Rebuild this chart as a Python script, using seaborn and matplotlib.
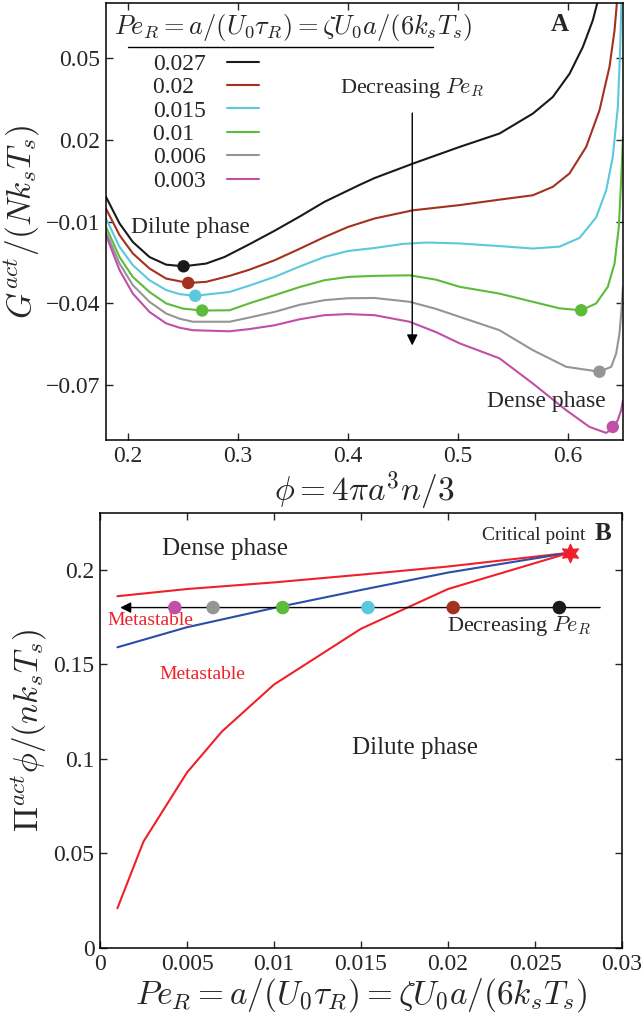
import numpy as np
import pandas as pd
import seaborn as sns
import matplotlib.pyplot as plt
from matplotlib.ticker import FixedLocator, FixedFormatter

# ---- panel A: G_act vs phi, one curve per Pe_R ----
pe_labels = ["0.027", "0.02", "0.015", "0.01", "0.006", "0.003"]
pe_colors = ["#1a1a1a", "#a2321e", "#5bc8dc", "#5dbb3c", "#959595", "#c04fa8"]

phi_027 = [0.18, 0.1923, 0.2044, 0.2195, 0.2347, 0.2505, 0.271, 0.2877, 0.31, 0.3332, 0.356,
           0.3786, 0.41, 0.4241, 0.459, 0.5014, 0.5377, 0.568, 0.5862, 0.6014, 0.6135, 0.6225, 0.6265]
g_027 = [-0.001, -0.0107, -0.0175, -0.023, -0.0258, -0.0264, -0.0254, -0.023, -0.0184, -0.0134, -0.0082,
         -0.0028, 0.0033, 0.0059, 0.0112, 0.0173, 0.0222, 0.0295, 0.0356, 0.0441, 0.0539, 0.0636, 0.0698]

phi_020 = [0.18, 0.1923, 0.2044, 0.2195, 0.2347, 0.2547, 0.271, 0.2923, 0.31, 0.3332, 0.356,
           0.3786, 0.40, 0.4241, 0.459, 0.5014, 0.5377, 0.568, 0.5862, 0.6014, 0.6165, 0.6286,
           0.6377, 0.6423, 0.6444]
g_020 = [-0.0053, -0.015, -0.0217, -0.0272, -0.0309, -0.0325, -0.0321, -0.0299, -0.0277, -0.0242, -0.02,
         -0.0157, -0.012, -0.0089, -0.0059, -0.004, -0.002, -0.0004, 0.0027, 0.0076, 0.0173, 0.0307,
         0.0466, 0.06, 0.0698]

phi_015 = [0.18, 0.1923, 0.2044, 0.2195, 0.2347, 0.247, 0.2611, 0.2923, 0.31, 0.3332, 0.356,
           0.3786, 0.40, 0.4241, 0.45, 0.471, 0.50, 0.5377, 0.568, 0.5923, 0.6105, 0.6256,
           0.6347, 0.6407, 0.6453, 0.6474, 0.6486]
g_015 = [-0.0089, -0.0193, -0.026, -0.0315, -0.0351, -0.0366, -0.0372, -0.0358, -0.0335, -0.0303, -0.0265,
         -0.023, -0.0208, -0.0197, -0.0182, -0.0177, -0.018, -0.019, -0.0199, -0.0192, -0.016, -0.0085,
         0.0014, 0.0136, 0.0319, 0.0527, 0.071]

phi_010 = [0.18, 0.1923, 0.2044, 0.2195, 0.2347, 0.25, 0.2674, 0.2923, 0.31, 0.3332, 0.356,
           0.3786, 0.40, 0.4241, 0.456, 0.48, 0.5014, 0.5377, 0.568, 0.5923, 0.612, 0.6256,
           0.6362, 0.6423, 0.6462, 0.6483, 0.65]
g_010 = [-0.012, -0.023, -0.0303, -0.0358, -0.04, -0.0419, -0.0426, -0.0425, -0.04, -0.037, -0.034,
         -0.0315, -0.0303, -0.0299, -0.0297, -0.0313, -0.0339, -0.0364, -0.0394, -0.0418, -0.0425, -0.04,
         -0.0339, -0.0254, -0.012, 0.0051, 0.021]

phi_006 = [0.18, 0.1923, 0.2044, 0.2195, 0.2347, 0.247, 0.259, 0.2923, 0.31, 0.3332, 0.356,
           0.3786, 0.40, 0.4241, 0.456, 0.48, 0.5014, 0.5377, 0.568, 0.5984, 0.6286, 0.6393,
           0.6438, 0.6468, 0.6486, 0.65]
g_006 = [-0.0138, -0.0254, -0.0333, -0.0394, -0.0437, -0.0456, -0.0467, -0.0467, -0.0452, -0.0431, -0.0405,
         -0.0388, -0.0381, -0.038, -0.0394, -0.042, -0.0449, -0.0498, -0.0571, -0.0632, -0.065, -0.0632,
         -0.0583, -0.051, -0.0425, -0.0339]

phi_003 = [0.18, 0.1923, 0.2044, 0.2195, 0.2347, 0.247, 0.259, 0.2923, 0.31, 0.3332, 0.356,
           0.3786, 0.40, 0.4241, 0.456, 0.48, 0.5014, 0.5377, 0.568, 0.5984, 0.6195, 0.6347,
           0.6407, 0.6453, 0.6483, 0.65]
g_003 = [-0.015, -0.0278, -0.0364, -0.0431, -0.0473, -0.0489, -0.0498, -0.0502, -0.0494, -0.048, -0.0458,
         -0.0443, -0.0439, -0.0443, -0.0467, -0.0505, -0.0546, -0.0601, -0.0693, -0.0791, -0.0852, -0.0874,
         -0.0858, -0.0827, -0.0791, -0.0754]

# coexisting states marked with dots
dot_pe = ["0.027", "0.02", "0.015", "0.01", "0.01", "0.006", "0.003"]
dot_phi = [0.2505, 0.2547, 0.2611, 0.2674, 0.612, 0.6286, 0.6407]
dot_g = [-0.0264, -0.0325, -0.0372, -0.0426, -0.0425, -0.065, -0.0852]

# ---- panel B: phase diagram ----
pe_upper = [0.001, 0.005, 0.01, 0.015, 0.02, 0.027]
pi_upper = [0.186, 0.1898, 0.1933, 0.1974, 0.2017, 0.209]
pe_spin = [0.001, 0.005, 0.01, 0.015, 0.02, 0.027]
pi_spin = [0.159, 0.1696, 0.1798, 0.1893, 0.1985, 0.209]
pe_lower = [0.001, 0.0025, 0.005, 0.007, 0.01, 0.015, 0.02, 0.027]
pi_lower = [0.021, 0.0563, 0.0928, 0.1144, 0.1393, 0.1688, 0.1898, 0.209]
crit_pe, crit_pi = 0.027, 0.209

path_pe = [0.0043, 0.0065, 0.0105, 0.0154, 0.0203, 0.0264]
path_pi = [0.18] * 6
path_labels = ["0.003", "0.006", "0.01", "0.015", "0.02", "0.027"]

red = "#f0202a"
blue = "#2c4ea6"
legend_title = r"$Pe_R = a/(U_0\tau_R) = \zeta U_0a/(6k_sT_s)$"

sns.set_style("ticks")
plt.rcParams["font.family"] = ["Liberation Serif", "DejaVu Serif"]
plt.rcParams["mathtext.fontset"] = "cm"
plt.rcParams["axes.linewidth"] = 1.1

fig = plt.figure(figsize=(6.42, 10.15), dpi=100)
axA = fig.add_axes([106 / 642, 1 - 440 / 1015, 517 / 642, 437 / 1015])
axB = fig.add_axes([100 / 642, 1 - 948 / 1015, 522 / 642, 435 / 1015])

palette = dict(zip(pe_labels, pe_colors))

curves = [(phi_027, g_027), (phi_020, g_020), (phi_015, g_015),
          (phi_010, g_010), (phi_006, g_006), (phi_003, g_003)]
dfA = pd.concat([pd.DataFrame({"phi": p, "G": g, "PeR": lab})
                 for (p, g), lab in zip(curves, pe_labels)], ignore_index=True)
sns.lineplot(data=dfA, x="phi", y="G", hue="PeR", hue_order=pe_labels, palette=palette,
             sort=False, estimator=None, lw=1.5, ax=axA)
dotsA = pd.DataFrame({"phi": dot_phi, "G": dot_g, "PeR": dot_pe})
sns.scatterplot(data=dotsA, x="phi", y="G", hue="PeR", palette=palette, s=80,
                edgecolor="none", legend=False, zorder=5, ax=axA)

# MATLAB-style legend: title with a rule under it, labels left, short lines right
handles, labels = axA.get_legend_handles_labels()
pad = "\u2007"
width = max(len(l) for l in labels)
labels = [l + pad * (width - len(l)) for l in labels]
axA.legend(handles[:6], labels[:6], frameon=False, markerfirst=False, loc="upper left",
           bbox_to_anchor=(0.091, 0.885), borderpad=0, borderaxespad=0,
           fontsize=17, handlelength=1.35, handletextpad=0.9, labelspacing=0.08)
axA.text(0.362, 0.945, legend_title, fontsize=19, ha="center", va="center",
         transform=axA.transAxes)
axA.plot([0.043, 0.632], [0.9, 0.9], color="k", lw=1, transform=axA.transAxes)

axA.set_xlim(0.18, 0.65)
axA.set_ylim(-0.09, 0.07)
axA.xaxis.set_major_locator(FixedLocator([0.2, 0.3, 0.4, 0.5, 0.6]))
axA.xaxis.set_major_formatter(FixedFormatter(["0.2", "0.3", "0.4", "0.5", "0.6"]))
axA.yaxis.set_major_locator(FixedLocator([-0.07, -0.04, -0.01, 0.02, 0.05]))
axA.yaxis.set_major_formatter(FixedFormatter(["\u22120.07", "\u22120.04", "\u22120.01", "0.02", "0.05"]))
axA.set_xlabel(r"$\phi = 4\pi a^3n/3$", fontsize=24)
axA.set_ylabel(r"$G^{act}/(Nk_sT_s)$", fontsize=24)
axA.xaxis.set_label_coords(0.5, -0.068)
axA.yaxis.set_label_coords(-0.123, 0.5)

axA.text(0.5923, 0.0622, "A", fontsize=18, fontweight="bold", ha="center", va="center")
axA.text(0.4586, 0.0388, r"Decreasing $Pe_R$", fontsize=16, ha="center", va="center")
axA.annotate("", xy=(0.4584, -0.0564), xytext=(0.4584, 0.0307),
             arrowprops=dict(arrowstyle="-|>", color="k", lw=1, mutation_scale=16))
axA.text(0.2568, -0.0122, "Dilute phase", fontsize=17, ha="center", va="center")
axA.text(0.580, -0.0758, "Dense phase", fontsize=17, ha="center", va="center")

# ---- panel B ----
dfB = pd.concat([
    pd.DataFrame({"Pe": pe_upper, "Pi": pi_upper, "curve": "upper"}),
    pd.DataFrame({"Pe": pe_spin, "Pi": pi_spin, "curve": "spinodal"}),
    pd.DataFrame({"Pe": pe_lower, "Pi": pi_lower, "curve": "lower"}),
], ignore_index=True)
sns.lineplot(data=dfB, x="Pe", y="Pi", hue="curve",
             palette={"upper": red, "spinodal": blue, "lower": red},
             sort=False, estimator=None, lw=1.5, legend=False, ax=axB)

axB.annotate("", xy=(0.001, 0.18), xytext=(0.0289, 0.18),
             arrowprops=dict(arrowstyle="-|>", color="k", lw=1, mutation_scale=16))
dotsB = pd.DataFrame({"Pe": path_pe, "Pi": path_pi, "PeR": path_labels})
sns.scatterplot(data=dotsB, x="Pe", y="Pi", hue="PeR", palette=palette, s=95,
                edgecolor="none", legend=False, zorder=5, ax=axB)
sns.scatterplot(x=[crit_pe], y=[crit_pi], marker=(6, 1, 0), s=170, color=red,
                edgecolor=red, zorder=6, ax=axB)

axB.set_xlim(0, 0.03)
axB.set_ylim(0, 0.23)
axB.xaxis.set_major_locator(FixedLocator([0, 0.005, 0.01, 0.015, 0.02, 0.025, 0.03]))
axB.xaxis.set_major_formatter(FixedFormatter(["0", "0.005", "0.01", "0.015", "0.02", "0.025", "0.03"]))
axB.yaxis.set_major_locator(FixedLocator([0, 0.05, 0.1, 0.15, 0.2]))
axB.yaxis.set_major_formatter(FixedFormatter(["0", "0.05", "0.1", "0.15", "0.2"]))
axB.set_xlabel(r"$Pe_R = a/(U_0\tau_R) = \zeta U_0a/(6k_sT_s)$", fontsize=24)
axB.set_ylabel(r"$\Pi^{act}\phi/(nk_sT_s)$", fontsize=24)
axB.xaxis.set_label_coords(0.5, -0.064)
axB.yaxis.set_label_coords(-0.097, 0.5)

axB.text(0.0289, 0.2192, "B", fontsize=18, fontweight="bold", ha="center", va="center")
axB.text(0.0249, 0.2179, "Critical point", fontsize=14, ha="center", va="center")
axB.text(0.00718, 0.2111, "Dense phase", fontsize=18, ha="center", va="center")
axB.text(0.0029, 0.1732, "Metastable", fontsize=14, color=red, ha="center", va="center")
axB.text(0.0059, 0.1447, "Metastable", fontsize=14, color=red, ha="center", va="center")
axB.text(0.0241, 0.170, r"Decreasing $Pe_R$", fontsize=16, ha="center", va="center")
axB.text(0.0181, 0.1059, "Dilute phase", fontsize=18, ha="center", va="center")

for ax in (axA, axB):
    ax.tick_params(direction="in", top=True, right=True, length=5, width=1,
                   labelsize=17, pad=4)
    for s in ax.spines.values():
        s.set_visible(True)
        s.set_color("k")

fig.savefig("out.png", dpi=100)
